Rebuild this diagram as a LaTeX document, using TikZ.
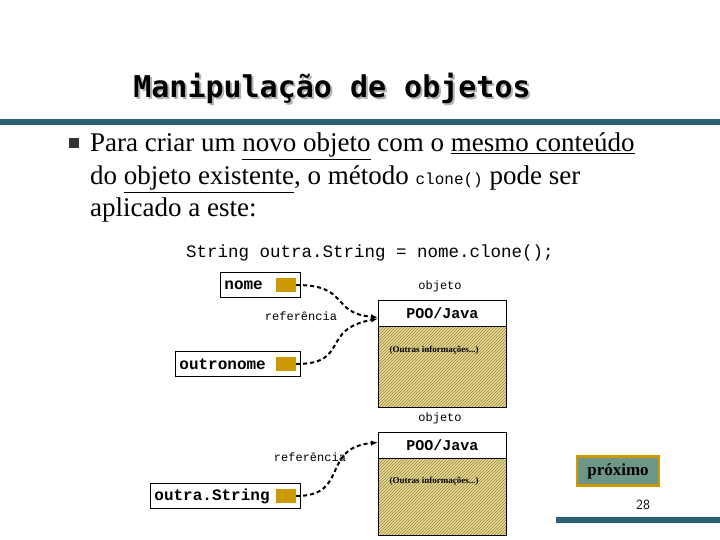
\documentclass[tikz,border=0pt]{standalone}
\usepackage{fontspec}
\setmainfont{Liberation Serif}
\setmonofont{Liberation Mono}
\newfontfamily\titlefont{DejaVu Sans Mono}
\usetikzlibrary{patterns,arrows.meta}
\definecolor{barblue}{RGB}{46,96,115}
\definecolor{gold}{RGB}{204,153,0}
\definecolor{hatchbg}{RGB}{232,220,150}
\definecolor{hatchln}{RGB}{150,130,60}
\definecolor{btngreen}{RGB}{110,150,135}
\tikzset{
  varbox/.style={draw, thick, fill=white, anchor=north west, minimum height=25pt, inner sep=4pt, font=\ttfamily\bfseries\fontsize{16}{16}\selectfont},
  refsq/.style={fill=gold, minimum width=20pt, minimum height=14pt, inner sep=0pt},
  ptr/.style={line width=2pt, dash pattern=on 4pt off 3pt, -{Latex[length=7pt]}},
  small/.style={font=\ttfamily\fontsize{12}{12}\selectfont},
  body/.style={anchor=base west, font=\fontsize{27}{27}\selectfont, inner sep=0}
}
\begin{document}
\begin{tikzpicture}[x=1pt,y=-1pt]
\useasboundingbox (0,0) rectangle (720,540);
% title
\node[font=\titlefont\bfseries\fontsize{30}{30}\selectfont, text=gray!60] at (334,90) {Manipulação de objetos};
\node[font=\titlefont\bfseries\fontsize{30}{30}\selectfont] (title) at (332,88) {Manipulação de objetos};
\fill[barblue] (0,119) rectangle (720,125);
% bullet text
\fill[black!80] (69,138) rectangle (79,148);
\node[body] (l1) at (90,152) {Para criar um \underline{novo objeto} com o \underline{mesmo conteúdo}};
\node[body] (l2) at (90,185) {do \underline{objeto existente}, o método {\ttfamily\fontsize{16}{16}\selectfont clone()} pode ser};
\node[body] (l3) at (90,217) {aplicado a este:};
\node[anchor=base west, font=\ttfamily\fontsize{17.5}{17.5}\selectfont, inner sep=0] (code) at (186,258) {String outra.String = nome.clone();};
% first object
\draw[thick, fill=hatchbg] (378,300) rectangle (506,407);
\path[pattern=north east lines, pattern color=hatchln] (378,326) rectangle (506,407);
\draw[thick] (378,300) rectangle (506,407);
\node[draw, thick, fill=white, minimum width=128pt, minimum height=26pt, anchor=north west, font=\ttfamily\bfseries\fontsize{15}{15}\selectfont] (obj1) at (378,300) {POO/Java};
\node[font=\bfseries\fontsize{9}{9}\selectfont] (info1) at (434,350) {(Outras informações...)};
\node[small] (lbl1) at (440,286) {objeto};
% second object
\draw[thick, fill=hatchbg] (378,432) rectangle (506,535);
\path[pattern=north east lines, pattern color=hatchln] (378,458) rectangle (506,535);
\draw[thick] (378,432) rectangle (506,535);
\node[draw, thick, fill=white, minimum width=128pt, minimum height=26pt, anchor=north west, font=\ttfamily\bfseries\fontsize{15}{15}\selectfont] (obj2) at (378,432) {POO/Java};
\node[font=\bfseries\fontsize{9}{9}\selectfont] (info2) at (434,481) {(Outras informações...)};
\node[small] (lbl2) at (440,418) {objeto};
% variables
\node[varbox, minimum width=80pt, text width=72pt] (nome) at (220,272) {nome};
\node[refsq] (rnome) at (286,285) {};
\node[varbox, minimum width=125pt, text width=117pt] (outro) at (175,351) {outronome};
\node[refsq] (routro) at (286,364) {};
\node[varbox, minimum width=150pt, text width=142pt] (outra) at (150,483) {outra.String};
\node[refsq] (routra) at (286,496) {};
\node[small] (ref1) at (301,316) {referência};
\node[small] (ref2) at (310,457) {referência};
% pointers
\draw[ptr] (rnome.east) .. controls (350,285) and (330,313) .. ([yshift=-4pt]obj1.west);
\draw[ptr] (routro.east) .. controls (350,364) and (320,329) .. ([yshift=8pt]obj1.south west);
\draw[ptr] (routra.east) .. controls (350,496) and (320,448) .. ([yshift=3pt]obj2.west);
% footer
\node[draw=gold, line width=2.5pt, fill=btngreen, minimum width=82pt, minimum height=29pt, font=\bfseries\fontsize{17}{17}\selectfont] (next) at (618,471) {próximo};
\node[font=\fontsize{14}{14}\selectfont\sffamily] (page) at (643,505) {28};
\fill[barblue] (556,517) rectangle (720,523);
\end{tikzpicture}
\end{document}
